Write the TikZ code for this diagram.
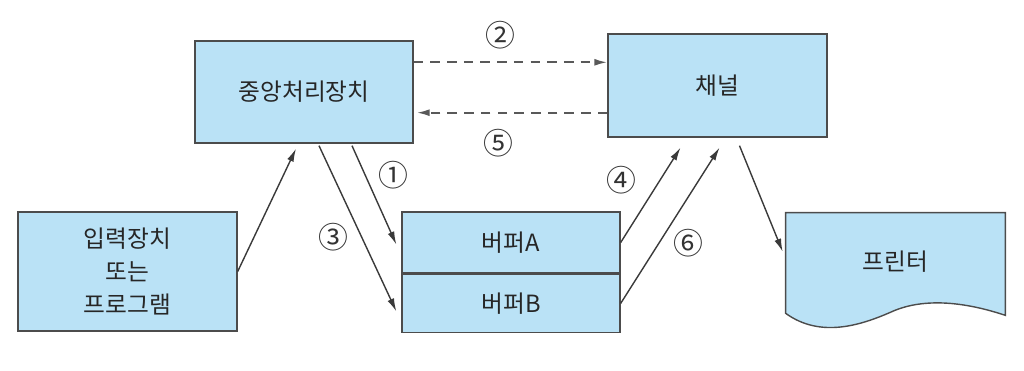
\documentclass[tikz,border=0pt]{standalone}
\usepackage{fontspec}
\setmainfont{Noto Sans CJK KR}
\usepackage{tikz}
\usetikzlibrary{positioning}
\usetikzlibrary{calc}
\usetikzlibrary{arrows.meta}

\definecolor{boxblue}{HTML}{BAE2F6}
\definecolor{lineg}{HTML}{3A3A3A}

\pgfdeclarelayer{bg}
\pgfsetlayers{bg,main}

\begin{document}
\begin{tikzpicture}[x=0.02cm, y=-0.02cm,
    font=\fontsize{13.5}{18.8}\selectfont, text=black!85,
    box/.style={draw=black!70, fill=boxblue, line width=0.8pt, inner sep=0pt},
    num/.style={font=\fontsize{17}{17}\selectfont, text=black!80},
    link/.style={draw=lineg, line width=0.8pt, -{Latex[length=2.6mm,width=1.4mm]}},
    dlink/.style={link, draw=black!65, line width=1.1pt, dash pattern=on 5.5pt off 4pt}]

    \useasboundingbox (0,0) rectangle (1024,371);

    \node [box, minimum width=4.36cm, minimum height=2.04cm] (cpu) at (304,92) {중앙처리장치};
    \node [box, minimum width=4.38cm, minimum height=2.06cm] (chn) at (717.5,85.5) {채널};
    \node [box, minimum width=4.38cm, minimum height=2.38cm, align=center] (inp) at (127.5,271.5) {입력장치\\또는\\프로그램};
    \node [box, minimum width=4.36cm, minimum height=1.22cm] (bufA) at (511,242.5) {버퍼A};
    \node [box, minimum width=4.36cm, minimum height=1.16cm, below=0cm of bufA] (bufB) {버퍼B};
    \node [minimum width=4.38cm, minimum height=1.96cm, inner sep=0pt] (prn) at (895.5,262) {프린터};

    % printer outline with wavy bottom
    \begin{pgfonlayer}{bg}
    \draw [draw=black!70, fill=boxblue, line width=0.8pt] (prn.north west) -- (prn.north east)
        -- ($(prn.south east)+(0,4)$)
        .. controls ($(prn.south east)+(-45,-11)$) and ($(prn.south east)+(-85,-13)$) .. ($(prn.south east)+(-115,1)$)
        .. controls ($(prn.south east)+(-145,14)$) and ($(prn.south east)+(-185,27)$) .. ($(prn.south west)+(0,2)$)
        -- cycle;
    \end{pgfonlayer}

    \coordinate (d2s) at ($(cpu.north east)+(0,22)$);
    \coordinate (d5e) at ($(cpu.south east)+(3,-31)$);

    \draw [dlink] (d2s) -- (d2s -| chn.west);
    \draw [dlink] (d5e -| chn.west) -- (d5e);

    \draw [link] (inp.east) -- ($(cpu.south)+(-8,5)$);
    \draw [link] ($(cpu.south)+(48,2)$) -- ($(bufA.west)+(-5,2)$);
    \draw [link] ($(cpu.south)+(15,2)$) -- ($(bufB.west)+(-5,8)$);
    \draw [link] (bufA.east) -- ($(chn.south)+(-37,10)$);
    \draw [link] (bufB.east) -- ($(chn.south)+(2,10)$);
    \draw [link] ($(chn.south)+(22,8)$) -- ($(prn.north west)+(-3,39)$);

    \node [num] (n1) at (393,175) {①};
    \node [num] (n2) at (500,35) {②};
    \node [num] (n3) at (333,237) {③};
    \node [num] (n4) at (621,180) {④};
    \node [num] (n5) at (498,143) {⑤};
    \node [num] (n6) at (688,243) {⑥};

\end{tikzpicture}
\end{document}
